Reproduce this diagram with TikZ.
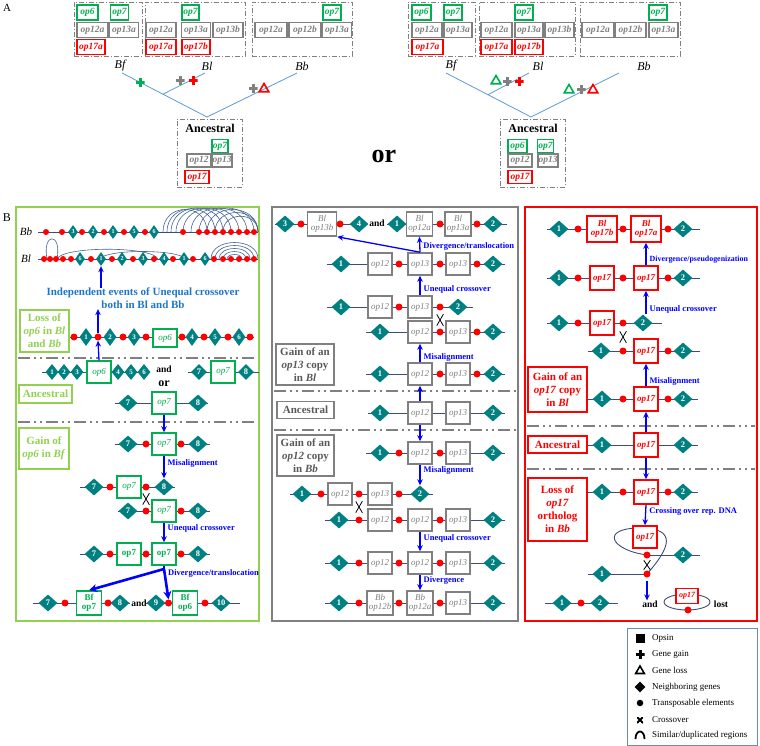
\documentclass[tikz,border=0pt]{standalone}
\usepackage{fontspec}
\setmainfont{Liberation Serif}
\setsansfont{Liberation Sans}
\usetikzlibrary{shapes.geometric, arrows.meta, positioning}
\definecolor{opgreen}{RGB}{0,176,80}
\definecolor{opgray}{RGB}{128,128,128}
\definecolor{tagtext}{RGB}{89,89,89}
\definecolor{opred}{RGB}{255,0,0}
\definecolor{nteal}{RGB}{0,128,128}
\definecolor{chromblue}{RGB}{62,76,122}
\definecolor{dupblue}{RGB}{70,100,150}
\definecolor{evblue}{RGB}{0,0,255}
\definecolor{indblue}{RGB}{30,118,200}
\definecolor{panelgreen}{RGB}{146,208,80}
\definecolor{treeblue}{RGB}{91,155,213}
\definecolor{legblue}{RGB}{100,140,190}
\tikzstyle{gene_g} = [rectangle, draw=opgreen, fill=white, line width=1.5pt, text=opgreen, font=\fontsize{9}{9.5}\selectfont\itshape, minimum width=24pt, minimum height=22pt, inner sep=0.5pt, align=center]
\tikzstyle{gene_k} = [rectangle, draw=opgray, fill=white, line width=1.6pt, text=opgray, font=\fontsize{9}{9.5}\selectfont\itshape, minimum width=24pt, minimum height=22pt, inner sep=0.5pt, align=center]
\tikzstyle{gene_r} = [rectangle, draw=opred, fill=white, line width=1.5pt, text=opred, font=\fontsize{9}{9.5}\selectfont\bfseries\itshape, minimum width=24pt, minimum height=24pt, inner sep=0.5pt, align=center]
\tikzstyle{agene_g} = [rectangle, draw=opgreen, fill=white, line width=1.3pt, text=opgreen, font=\fontsize{9.5}{9.5}\selectfont\bfseries\itshape, minimum height=15pt, inner sep=0pt]
\tikzstyle{agene_k} = [rectangle, draw=opgray, fill=white, line width=1.3pt, text=opgray, font=\fontsize{9.5}{9.5}\selectfont\bfseries\itshape, minimum height=15pt, inner sep=0pt]
\tikzstyle{agene_r} = [rectangle, draw=opred, fill=white, line width=1.3pt, text=opred, font=\fontsize{9.5}{9.5}\selectfont\bfseries\itshape, minimum height=15pt, inner sep=0pt]
\tikzstyle{neigh} = [diamond, fill=nteal, text=white, font=\fontsize{8.5}{8.5}\selectfont\bfseries, inner sep=0pt, minimum width=19pt, minimum height=17pt]
\tikzstyle{neigh_m} = [neigh, minimum width=13pt, minimum height=18pt, font=\fontsize{7}{7}\selectfont\bfseries]
\tikzstyle{neigh_s} = [neigh, minimum width=10pt, minimum height=14pt, font=\fontsize{6}{6}\selectfont\bfseries]
\tikzstyle{tedot} = [circle, fill=opred, inner sep=0pt, minimum size=7pt]
\tikzstyle{tedot_s} = [tedot, minimum size=6pt]
\tikzstyle{chrom} = [draw=chromblue, line width=0.9pt]
\tikzstyle{dup} = [draw=dupblue, line width=0.6pt]
\tikzstyle{sepline} = [draw=opgray, line width=1.6pt, dash pattern=on 12pt off 4pt on 2pt off 4pt on 2pt off 4pt]
\tikzstyle{famly} = [rectangle, draw=opgray, line width=0.8pt, dash pattern=on 5pt off 2pt on 1pt off 2pt]
\tikzstyle{tree} = [draw=treeblue, line width=0.8pt]
\tikzstyle{tag_g} = [rectangle, draw=panelgreen, line width=1.5pt, text=panelgreen, font=\fontsize{11}{13}\selectfont\bfseries, align=center, inner sep=1pt]
\tikzstyle{tag_k} = [rectangle, draw=opgray, line width=1.6pt, text=tagtext, font=\fontsize{11}{13}\selectfont\bfseries, align=center, inner sep=1pt]
\tikzstyle{tag_r} = [rectangle, draw=opred, line width=1.5pt, text=opred, font=\fontsize{11}{13}\selectfont\bfseries, align=center, inner sep=1pt]
\tikzstyle{panel_g} = [rectangle, draw=panelgreen, line width=2.3pt]
\tikzstyle{panel_k} = [rectangle, draw=opgray, line width=2.8pt]
\tikzstyle{panel_r} = [rectangle, draw=opred, line width=2pt]
\tikzstyle{evlabel} = [text=evblue, font=\fontsize{8.5}{8.5}\selectfont\bfseries, inner sep=0pt, anchor=west, xshift=3pt]
\tikzstyle{evarrow} = [draw=evblue, line width=1.3pt, -{Stealth[length=6pt,width=5.5pt]}]
\tikzstyle{evarrow_thick} = [draw=evblue, line width=2.6pt, -{Stealth[length=8pt,width=8pt]}]
\tikzstyle{sp_lab} = [font=\fontsize{12}{12}\selectfont\itshape, inner sep=0pt]
\tikzstyle{andtxt} = [font=\fontsize{9.5}{9.5}\selectfont\bfseries, inner sep=0pt]
\tikzstyle{legtxt} = [font=\fontsize{9}{9}\selectfont, anchor=west, inner sep=0pt]
\tikzstyle{xover} = [minimum width=7pt, minimum height=12pt, inner sep=0pt, path picture={\draw[line width=0.8pt] (path picture bounding box.north west) -- (path picture bounding box.south east) (path picture bounding box.north east) -- (path picture bounding box.south west);}]
\tikzset{gain/.style={rectangle, minimum size=9pt, inner sep=0pt, path picture={\draw[#1, line width=3pt] (path picture bounding box.north) -- (path picture bounding box.south) (path picture bounding box.west) -- (path picture bounding box.east);}}}
\tikzset{loss/.style={regular polygon, regular polygon sides=3, draw=#1, line width=1.6pt, inner sep=0pt, minimum size=11pt}}

\begin{document}
\begin{tikzpicture}[x=1pt, y=-1pt]
\useasboundingbox (0,0) rectangle (760,746);

% ===== Panel A : left tree
\node[font=\fontsize{11}{11}\selectfont] (lab_A) at (7,8) {A};
\node[famly, minimum width=68pt, minimum height=54pt] (aL_fam_f) at (108,29) {};
\node[famly, minimum width=100pt, minimum height=54pt] (aL_fam_l) at (195,29) {};
\node[famly, minimum width=100pt, minimum height=54pt] (aL_fam_b) at (302,29) {};
\node[agene_g, minimum width=21pt] (aL_f_op6) at (87.5,12.5) {op6};
\node[agene_g, minimum width=18pt] (aL_f_op7) at (119.5,12.5) {op7};
\node[agene_k, minimum width=31pt] (aL_f_op12a) at (92.5,30) {op12a};
\node[agene_k, minimum width=29pt] (aL_f_op13a) at (124,30) {op13a};
\node[agene_r, minimum width=28pt] (aL_f_op17a) at (91,47) {op17a};
\node[agene_g, minimum width=17pt] (aL_l_op7) at (190.5,12.5) {op7};
\node[agene_k, minimum width=30pt] (aL_l_op12a) at (161,30) {op12a};
\node[agene_k, minimum width=29pt] (aL_l_op13a) at (196,30) {op13a};
\node[agene_k, minimum width=30pt] (aL_l_op13b) at (228,30) {op13b};
\node[agene_r, minimum width=30pt] (aL_l_op17a) at (161,47) {op17a};
\node[agene_r, minimum width=28pt] (aL_l_op17b) at (196,47) {op17b};
\node[agene_g, minimum width=18pt] (aL_b_op7) at (332,12.5) {op7};
\node[agene_k, minimum width=32pt] (aL_b_op12a) at (271,30) {op12a};
\node[agene_k, minimum width=32pt] (aL_b_op12b) at (305,30) {op12b};
\node[agene_k, minimum width=29pt] (aL_b_op13a) at (337,30) {op13a};
\coordinate (tL_root) at (207,117);
\coordinate (tL_f) at (122,73);
\coordinate (tL_fork) at (163,94.2);
\coordinate (tL_l) at (205,73);
\coordinate (tL_b) at (297,73);
\draw[tree] (tL_f) -- (tL_root) -- (tL_b);
\draw[tree] (tL_fork) -- (tL_l);
\node[sp_lab] (aL_Bf) at (120,66) {Bf};
\node[sp_lab] (aL_Bl) at (207,66) {Bl};
\node[sp_lab] (aL_Bb) at (302,66) {Bb};
\node[gain=opgreen] (aL_gain_f) at (140,83) {};
\node[gain=opgray] (aL_gain_l12) at (180,81) {};
\node[gain=opred] (aL_gain_l17) at (193,81) {};
\node[gain=opgray] (aL_gain_b12) at (253,89) {};
\node[loss=opred] (aL_loss_b17) at (264,89) {};
\node[famly, minimum width=65pt, minimum height=68pt] (aL_anc) at (209.5,153) {};
\node[font=\fontsize{12}{12}\selectfont\bfseries] (aL_anc_lab) at (210,128) {Ancestral};
\node[agene_g, minimum width=16pt, minimum height=13pt] (aL_a_op7) at (220,146) {op7};
\node[agene_k, minimum width=24pt, minimum height=13pt] (aL_a_op12) at (199,160.5) {op12};
\node[agene_k, minimum width=20pt, minimum height=13pt] (aL_a_op13) at (222,160.5) {op13};
\node[agene_r, minimum width=24pt, minimum height=13pt] (aL_a_op17) at (197,177) {op17};

\node[font=\fontsize{26}{26}\selectfont\bfseries] (aOr) at (384,156) {or};

% ===== Panel A : right tree
\node[famly, minimum width=67pt, minimum height=54pt] (aR_fam_f) at (441.5,29) {};
\node[famly, minimum width=96pt, minimum height=54pt] (aR_fam_l) at (527,29) {};
\node[famly, minimum width=100pt, minimum height=54pt] (aR_fam_b) at (630,29) {};
\node[agene_g, minimum width=19pt] (aR_f_op6) at (421.5,12.5) {op6};
\node[agene_g, minimum width=18pt] (aR_f_op7) at (453,12.5) {op7};
\node[agene_k, minimum width=30pt] (aR_f_op12a) at (427,30) {op12a};
\node[agene_k, minimum width=28pt] (aR_f_op13a) at (458,30) {op13a};
\node[agene_r, minimum width=31pt] (aR_f_op17a) at (427.5,47) {op17a};
\node[agene_g, minimum width=18pt] (aR_l_op7) at (524,12.5) {op7};
\node[agene_k, minimum width=31pt] (aR_l_op12a) at (496.5,30) {op12a};
\node[agene_k, minimum width=28pt] (aR_l_op13a) at (529,30) {op13a};
\node[agene_k, minimum width=29pt] (aR_l_op13b) at (559.5,30) {op13b};
\node[agene_r, minimum width=31pt] (aR_l_op17a) at (496.5,47) {op17a};
\node[agene_r, minimum width=28pt] (aR_l_op17b) at (529,47) {op17b};
\node[agene_g, minimum width=18pt] (aR_b_op7) at (658,12.5) {op7};
\node[agene_k, minimum width=32pt] (aR_b_op12a) at (598,30) {op12a};
\node[agene_k, minimum width=31pt] (aR_b_op12b) at (630.5,30) {op12b};
\node[agene_k, minimum width=29pt] (aR_b_op13a) at (663.5,30) {op13a};
\coordinate (tR_root) at (531,117);
\coordinate (tR_f) at (446,73);
\coordinate (tR_fork) at (488,94.7);
\coordinate (tR_l) at (529,73);
\coordinate (tR_b) at (619,73);
\draw[tree] (tR_f) -- (tR_root) -- (tR_b);
\draw[tree] (tR_fork) -- (tR_l);
\node[sp_lab] (aR_Bf) at (451,66) {Bf};
\node[sp_lab] (aR_Bl) at (538,66) {Bl};
\node[sp_lab] (aR_Bb) at (644,66) {Bb};
\node[loss=opgreen] (aR_loss_l6) at (496,81) {};
\node[gain=opgray] (aR_gain_l12) at (507,82) {};
\node[gain=opred] (aR_gain_l17) at (519,82) {};
\node[loss=opgreen] (aR_loss_b6) at (569,90) {};
\node[gain=opgray] (aR_gain_b12) at (581,90) {};
\node[loss=opred] (aR_loss_b17) at (593,90) {};
\node[famly, minimum width=65pt, minimum height=68pt] (aR_anc) at (532.5,153) {};
\node[font=\fontsize{12}{12}\selectfont\bfseries] (aR_anc_lab) at (533,128) {Ancestral};
\node[agene_g, minimum width=19pt, minimum height=13pt] (aR_a_op6) at (517.5,146) {op6};
\node[agene_g, minimum width=16pt, minimum height=13pt] (aR_a_op7) at (545.5,146) {op7};
\node[agene_k, minimum width=24pt, minimum height=13pt] (aR_a_op12) at (520,160.5) {op12};
\node[agene_k, minimum width=20pt, minimum height=13pt] (aR_a_op13) at (548,160.5) {op13};
\node[agene_r, minimum width=24pt, minimum height=13pt] (aR_a_op17) at (520,177) {op17};

% ===== Panel B : frames
\node[font=\fontsize{12}{12}\selectfont] (lab_B) at (7,218) {B};
\node[panel_g, minimum width=243pt, minimum height=414pt] (L_panel) at (137.5,414) {};
\node[panel_k, minimum width=246pt, minimum height=414pt] (M_panel) at (395,414) {};
\node[panel_r, minimum width=232pt, minimum height=414pt] (R_panel) at (641,414) {};

% ----- left panel (op6 / op7)
\foreach \a/\b/\h in {163/207/30, 167/215/31, 171/223/32, 176/231/32, 183/239/32, 191/247/32, 199/254/32, 207/258/30, 215/258/26, 223/258/21}
  \draw[dup] (\a,232) .. controls (\a,232-\h) and (\b,232-\h) .. (\b,232);
\coordinate (Bb_l) at (38,232);
\coordinate (Bb_r) at (258,232);
\draw[chrom] (Bb_l) -- (Bb_r);
\foreach \x [count=\i] in {46,62,82,104,124,145,183,199,207,215,223,231,239,247,254}
  \node[tedot_s] (Bb_t\i) at (\x,232) {};
\foreach \x/\lbl [count=\i] in {73/3,93/2,113/1,134/5,154/6}
  \node[neigh_s] (Bb_d\i) at (\x,232) {\lbl};
\node[sp_lab, font=\fontsize{11}{11}\selectfont\itshape] (Bb_lab) at (26,232) {Bb};

\draw[dup] (47,259) .. controls (42,232) and (62,232) .. (57,259);
\draw[dup] (57,259) .. controls (62,246) and (153,246) .. (158,259);
\draw[dup] (100,259) .. controls (105,249) and (180,249) .. (185,259);
\foreach \a/\b/\h in {211/258/22, 215/254/18, 219/250/14, 223/246/10, 227/242/6}
  \draw[dup] (\a,259) .. controls (\a,259-\h) and (\b,259-\h) .. (\b,259);
\coordinate (Bl_l) at (38,259);
\coordinate (Bl_r) at (258,259);
\draw[chrom] (Bl_l) -- (Bl_r);
\foreach \x [count=\i] in {44,50,56,63,71,91,112,133,154,173,193,214,223,231,239,247,254}
  \node[tedot_s] (Bl_t\i) at (\x,259) {};
\foreach \x/\lbl [count=\i] in {80/6,101/1,122/2,143/3,164/4,184/1,205/6}
  \node[neigh_s] (Bl_d\i) at (\x,259) {\lbl};
\node[sp_lab, font=\fontsize{11}{11}\selectfont\itshape] (Bl_lab) at (26,259) {Bl};

\node[text=indblue, font=\fontsize{11}{13}\selectfont\bfseries, align=center, inner sep=0pt] (L_indep) at (143,298.5) {Independent events of Unequal crossover\\both in Bl and Bb};

% loss of op6
\node[tag_g, minimum width=49pt, minimum height=42pt] (L_tag_loss) at (44.5,331) {Loss of\\\textit{op6} in \textit{Bl}\\and \textit{Bb}};
\coordinate (L_l) at (70,337);
\coordinate (L_r) at (254,337);
\draw[chrom] (L_l) -- (L_r);
\node[tedot] (L_t1) at (74,337) {};
\node[neigh_m] (L_d1) at (86,337) {1};
\node[tedot] (L_t2) at (98,337) {};
\node[neigh_m] (L_d2) at (110,337) {2};
\node[tedot] (L_t3) at (123,337) {};
\node[neigh_m] (L_d3) at (134,337) {3};
\node[tedot] (L_t4) at (146,337) {};
\node[gene_g, minimum height=18pt] (L_op6) at (165,338) {op6};
\node[tedot] (L_t5) at (182,337) {};
\node[neigh_m] (L_d4) at (192,337) {4};
\node[tedot] (L_t6) at (204,337) {};
\node[neigh_m] (L_d5) at (215,337) {5};
\node[tedot] (L_t7) at (228,337) {};
\node[neigh_m] (L_d6) at (239,337) {6};
\node[tedot] (L_t8) at (250,337) {};

\coordinate (L_sep1a) at (18,358);
\coordinate (L_sep1b) at (257,358);
\draw[sepline] (L_sep1a) -- (L_sep1b);

% ancestral op6 and op7
\coordinate (A0_l1) at (42,372);
\coordinate (A0_r1) at (150,372);
\draw[chrom] (A0_l1) -- (A0_r1);
\node[neigh_m, minimum height=16pt] (A0_d1) at (52,372) {1};
\node[neigh_m, minimum height=16pt] (A0_d2) at (64,372) {2};
\node[neigh_m, minimum height=16pt] (A0_d3) at (77,372) {3};
\node[gene_g] (A0_op6) at (99,372) {op6};
\node[neigh_m, minimum height=16pt] (A0_d4) at (118,372) {4};
\node[neigh_m, minimum height=16pt] (A0_d5) at (131,372) {5};
\node[neigh_m, minimum height=16pt] (A0_d6) at (144,372) {6};
\node[andtxt] (A0_and) at (164,369) {and};
\node[font=\fontsize{12}{12}\selectfont\bfseries, inner sep=0pt] (A0_or) at (164,384) {or};
\coordinate (A0_l2) at (188,372);
\coordinate (A0_r2) at (259,372);
\draw[chrom] (A0_l2) -- (A0_r2);
\node[neigh, minimum width=16pt, minimum height=16pt] (A0_d7) at (199,372) {7};
\node[gene_g] (A0_op7) at (223,372) {op7};
\node[neigh, minimum width=16pt, minimum height=16pt] (A0_d8) at (246,372) {8};

\node[tag_g, minimum width=53pt, minimum height=18pt] (L_tag_anc) at (45.5,394) {Ancestral};
\coordinate (LA_l) at (115,403);
\coordinate (LA_r) at (208,403);
\draw[chrom] (LA_l) -- (LA_r);
\node[neigh] (LA_d7) at (128,403) {7};
\node[gene_g] (LA_op7) at (164,403) {op7};
\node[neigh] (LA_d8) at (198,403) {8};

\coordinate (L_sep2a) at (18,422);
\coordinate (L_sep2b) at (257,422);
\draw[sepline] (L_sep2a) -- (L_sep2b);

% gain of op6
\node[tag_g, minimum width=50pt, minimum height=41pt] (L_tag_gain) at (44,448.5) {Gain of\\\textit{op6} in \textit{Bf}};
\coordinate (G1_l) at (115,444);
\coordinate (G1_r) at (210,444);
\draw[chrom] (G1_l) -- (G1_r);
\node[neigh] (G1_d7) at (128,444) {7};
\node[tedot] (G1_t1) at (146,444) {};
\node[gene_g] (G1_op7) at (164,444) {op7};
\node[tedot] (G1_t2) at (181,444) {};
\node[neigh] (G1_d8) at (198,444) {8};

\coordinate (G2a_l) at (80,487);
\coordinate (G2a_r) at (175,487);
\draw[chrom] (G2a_l) -- (G2a_r);
\node[neigh] (G2a_d7) at (94,487) {7};
\node[tedot] (G2a_t1) at (110,487) {};
\node[gene_g] (G2a_op7) at (129,487) {op7};
\node[tedot] (G2a_t2) at (146,487) {};
\node[neigh] (G2a_d8) at (164,487) {8};

\coordinate (G2b_l) at (118,511);
\coordinate (G2b_r) at (210,511);
\draw[chrom] (G2b_l) -- (G2b_r);
\node[neigh] (G2b_d7) at (128,511) {7};
\node[tedot] (G2b_t1) at (146,511) {};
\node[gene_g] (G2b_op7) at (164,511) {op7};
\node[tedot] (G2b_t2) at (181,511) {};
\node[neigh] (G2b_d8) at (198,511) {8};
\node[xover] (G2_x) at (146,499) {};

\coordinate (G3_l) at (80,554);
\coordinate (G3_r) at (210,554);
\draw[chrom] (G3_l) -- (G3_r);
\node[neigh] (G3_d7) at (94,554) {7};
\node[tedot] (G3_t1) at (110,554) {};
\node[gene_g, font=\fontsize{9}{9.5}\selectfont\bfseries] (G3_b1) at (129,554) {op7};
\node[tedot] (G3_t2) at (146,554) {};
\node[gene_g, font=\fontsize{9}{9.5}\selectfont\bfseries] (G3_b2) at (164,554) {op7};
\node[tedot] (G3_t3) at (181,554) {};
\node[neigh] (G3_d8) at (198,554) {8};

\coordinate (F_l1) at (33,603);
\coordinate (F_r1) at (130,603);
\draw[chrom] (F_l1) -- (F_r1);
\node[neigh] (F_d7) at (48,603) {7};
\node[tedot] (F_t1) at (65,603) {};
\node[gene_g, font=\fontsize{9}{9.5}\selectfont\bfseries, minimum width=25pt, minimum height=24pt] (F_b1) at (89,603) {Bf\\op7};
\node[tedot] (F_t2) at (108,603) {};
\node[neigh] (F_d8) at (120,603) {8};
\node[andtxt] (F_and) at (139,603) {and};
\coordinate (F_l2) at (146,603);
\coordinate (F_r2) at (240,603);
\draw[chrom] (F_l2) -- (F_r2);
\node[neigh] (F_d9) at (156,603) {9};
\node[tedot] (F_t3) at (168.5,603) {};
\node[gene_g, font=\fontsize{9}{9.5}\selectfont\bfseries, minimum width=25pt, minimum height=24pt] (F_b2) at (185,603) {Bf\\op6};
\node[tedot] (F_t4) at (205,603) {};
\node[neigh] (F_d10) at (221,603) {10};

% left arrows
\draw[evarrow] (L_indep.north -| Bl_d2) -- (Bl_d2.south);
\draw[evarrow] (L_t2.north) -- (L_indep.south -| L_t2);
\draw[evarrow] (A0_op6.north) -- (L_t2.south);
\draw[evarrow] (LA_op7.south) -- (G1_op7.north);
\draw[evarrow] (G1_op7.south) -- (G2a_d8.north) node[evlabel, pos=0.35] {Misalignment};
\draw[evarrow] (G2b_op7.south) -- (G3_b2.north) node[evlabel, pos=0.3] {Unequal crossover};
\coordinate (G3_div) at (164,569);
\draw[evblue, line width=2.6pt] (G3_b2.south) -- (G3_div);
\draw[evarrow_thick] (G3_div) -- (F_b1.north);
\draw[evarrow_thick] (G3_div) -- (F_t3.north);
\node[evlabel] (G3_divlab) at (165,573) {Divergence/translocation};

% ----- middle panel (op12 / op13)
\coordinate (M1_l1) at (275,224);
\coordinate (M1_r1) at (367,224);
\draw[chrom] (M1_l1) -- (M1_r1);
\node[neigh] (M1_d3) at (285,224) {3};
\node[tedot] (M1_t1) at (301,224) {};
\node[gene_k, minimum width=29pt, minimum height=24pt] (M1_b1) at (322,224) {Bl\\op13b};
\node[tedot] (M1_t2) at (340,224) {};
\node[neigh] (M1_d4) at (359,224) {4};
\node[andtxt] (M1_and) at (377,223) {and};
\coordinate (M1_l2) at (387,224);
\coordinate (M1_r2) at (507,224);
\draw[chrom] (M1_l2) -- (M1_r2);
\node[neigh] (M1_d1) at (397,224) {1};
\node[gene_k, minimum width=26pt, minimum height=24pt] (M1_b2) at (419.5,224) {Bl\\op12a};
\node[tedot] (M1_t3) at (440,224) {};
\node[gene_k, minimum width=26pt, minimum height=24pt] (M1_b3) at (458,224) {Bl\\op13a};
\node[tedot] (M1_t4) at (477,224) {};
\node[neigh] (M1_d2) at (493,224) {2};

\coordinate (M2_l) at (327,264);
\coordinate (M2_r) at (505,264);
\draw[chrom] (M2_l) -- (M2_r);
\node[neigh] (M2_d1) at (341,264) {1};
\node[gene_k] (M2_b1) at (380,264) {op12};
\node[tedot] (M2_t1) at (399,264) {};
\node[gene_k] (M2_b2) at (420,264) {op13};
\node[tedot] (M2_t2) at (440,264) {};
\node[gene_k] (M2_b3) at (458,264) {op13};
\node[tedot] (M2_t3) at (477,264) {};
\node[neigh] (M2_d2) at (493,264) {2};

\coordinate (M3a_l) at (327,307);
\coordinate (M3a_r) at (473,307);
\draw[chrom] (M3a_l) -- (M3a_r);
\node[neigh] (M3a_d1) at (341,307) {1};
\node[gene_k] (M3a_b1) at (380,307) {op12};
\node[tedot] (M3a_t1) at (399,307) {};
\node[gene_k] (M3a_b2) at (420,307) {op13};
\node[tedot] (M3a_t2) at (440,307) {};
\node[neigh] (M3a_d2) at (458,307) {2};

\coordinate (M3b_l) at (366,332);
\coordinate (M3b_r) at (505,332);
\draw[chrom] (M3b_l) -- (M3b_r);
\node[neigh] (M3b_d1) at (380,332) {1};
\node[gene_k] (M3b_b1) at (420,332) {op12};
\node[tedot] (M3b_t1) at (440,332) {};
\node[gene_k] (M3b_b2) at (458,332) {op13};
\node[tedot] (M3b_t2) at (477,332) {};
\node[neigh] (M3b_d2) at (493,332) {2};
\node[xover] (M3_x) at (440,320) {};

\node[tag_k, minimum width=58pt, minimum height=41pt] (M_tag_gain13) at (305,364.5) {Gain of an\\\textit{op13} copy\\in \textit{Bl}};
\coordinate (M4_l) at (366,374);
\coordinate (M4_r) at (505,374);
\draw[chrom] (M4_l) -- (M4_r);
\node[neigh] (M4_d1) at (380,374) {1};
\node[gene_k] (M4_b1) at (420,374) {op12};
\node[tedot] (M4_t1) at (440,374) {};
\node[gene_k] (M4_b2) at (458,374) {op13};
\node[tedot] (M4_t2) at (477,374) {};
\node[neigh] (M4_d2) at (493,374) {2};

\coordinate (M_sep1a) at (274,391);
\coordinate (M_sep1b) at (516,391);
\draw[sepline] (M_sep1a) -- (M_sep1b);

\node[tag_k, minimum width=57pt, minimum height=17pt] (M_tag_anc) at (305.5,410) {Ancestral};
\coordinate (MA_l) at (368,413);
\coordinate (MA_r) at (505,413);
\draw[chrom] (MA_l) -- (MA_r);
\node[neigh] (MA_d1) at (380,413) {1};
\node[gene_k] (MA_b1) at (420,413) {op12};
\node[gene_k] (MA_b2) at (458,413) {op13};
\node[neigh] (MA_d2) at (493,413) {2};

\coordinate (M_sep2a) at (274,430);
\coordinate (M_sep2b) at (516,430);
\draw[sepline] (M_sep2a) -- (M_sep2b);

\node[tag_k, minimum width=57pt, minimum height=41pt] (M_tag_gain12) at (305.5,455.5) {Gain of an\\\textit{op12} copy\\in \textit{Bb}};
\coordinate (MB1_l) at (366,453);
\coordinate (MB1_r) at (505,453);
\draw[chrom] (MB1_l) -- (MB1_r);
\node[neigh] (MB1_d1) at (380,453) {1};
\node[tedot] (MB1_t1) at (399,453) {};
\node[gene_k] (MB1_b1) at (420,453) {op12};
\node[tedot] (MB1_t2) at (440,453) {};
\node[gene_k] (MB1_b2) at (458,453) {op13};
\node[neigh] (MB1_d2) at (493,453) {2};

\coordinate (MB2a_l) at (290,494);
\coordinate (MB2a_r) at (433,494);
\draw[chrom] (MB2a_l) -- (MB2a_r);
\node[neigh] (MB2a_d1) at (302,494) {1};
\node[tedot] (MB2a_t1) at (321,494) {};
\node[gene_k] (MB2a_b1) at (340,494) {op12};
\node[tedot] (MB2a_t2) at (359,494) {};
\node[gene_k] (MB2a_b2) at (380,494) {op13};
\node[tedot] (MB2a_t3) at (399,494) {};
\node[neigh] (MB2a_d2) at (420,494) {2};

\coordinate (MB2b_l) at (325,520);
\coordinate (MB2b_r) at (505,520);
\draw[chrom] (MB2b_l) -- (MB2b_r);
\node[neigh] (MB2b_d1) at (339,520) {1};
\node[tedot] (MB2b_t1) at (359,520) {};
\node[gene_k] (MB2b_b1) at (380,520) {op12};
\node[tedot] (MB2b_t2) at (399,520) {};
\node[gene_k] (MB2b_b2) at (420,520) {op12};
\node[tedot] (MB2b_t3) at (440,520) {};
\node[gene_k] (MB2b_b3) at (458,520) {op13};
\node[neigh] (MB2b_d2) at (493,520) {2};
\node[xover] (MB2_x) at (359,507) {};

\coordinate (MB3_l) at (325,563);
\coordinate (MB3_r) at (505,563);
\draw[chrom] (MB3_l) -- (MB3_r);
\node[neigh] (MB3_d1) at (339,563) {1};
\node[tedot] (MB3_t1) at (359,563) {};
\node[gene_k] (MB3_b1) at (380,563) {op12};
\node[tedot] (MB3_t2) at (399,563) {};
\node[gene_k] (MB3_b2) at (420,563) {op12};
\node[tedot] (MB3_t3) at (440,563) {};
\node[gene_k] (MB3_b3) at (458,563) {op13};
\node[neigh] (MB3_d2) at (493,563) {2};

\coordinate (MB4_l) at (325,603);
\coordinate (MB4_r) at (505,603);
\draw[chrom] (MB4_l) -- (MB4_r);
\node[neigh] (MB4_d1) at (339,603) {1};
\node[tedot] (MB4_t1) at (359,603) {};
\node[gene_k, minimum width=26pt, minimum height=24pt] (MB4_b1) at (380,603) {Bb\\op12b};
\node[tedot] (MB4_t2) at (399,603) {};
\node[gene_k, minimum width=26pt, minimum height=24pt] (MB4_b2) at (420,603) {Bb\\op12a};
\node[tedot] (MB4_t3) at (440,603) {};
\node[gene_k] (MB4_b3) at (458,603) {op13};
\node[neigh] (MB4_d2) at (493,603) {2};

% middle arrows
\draw[evarrow] (M2_b2.north) -- (M1_b2.south) node[evlabel, pos=0.4] {Divergence/translocation};
\draw[evarrow] (M2_b2.north) -- (M1_b1.south east);
\draw[evarrow] (M3a_b2.north) -- (M2_b2.south) node[evlabel, pos=0.3] {Unequal crossover};
\draw[evarrow] (M4_b1.north) -- (M3b_b1.south) node[evlabel, pos=0.25] {Misalignment};
\draw[evarrow] (MA_b1.north) -- (M4_b1.south);
\draw[evarrow] (MA_b1.south) -- (MB1_b1.north);
\draw[evarrow] (MB1_b1.south) -- (MB2a_d2.north) node[evlabel, pos=0.3] {Misalignment};
\draw[evarrow] (MB2b_b2.south) -- (MB3_b2.north) node[evlabel, pos=0.33] {Unequal crossover};
\draw[evarrow] (MB3_b2.south) -- (MB4_b2.north) node[evlabel, pos=0.35] {Divergence};

% ----- right panel (op17)
\coordinate (R1_l) at (547,229);
\coordinate (R1_r) at (700,229);
\draw[chrom] (R1_l) -- (R1_r);
\node[neigh] (R1_d1) at (559,229) {1};
\node[tedot] (R1_t1) at (578,229) {};
\node[gene_r, minimum width=30pt, minimum height=26pt] (R1_b1) at (602,229) {Bl\\op17b};
\node[tedot] (R1_t2) at (623,229) {};
\node[gene_r, minimum width=30pt, minimum height=26pt] (R1_b2) at (646,229) {Bl\\op17a};
\node[tedot] (R1_t3) at (668,229) {};
\node[neigh] (R1_d2) at (683,229) {2};

\coordinate (R2_l) at (547,278);
\coordinate (R2_r) at (700,278);
\draw[chrom] (R2_l) -- (R2_r);
\node[neigh] (R2_d1) at (559,278) {1};
\node[tedot] (R2_t1) at (578,278) {};
\node[gene_r] (R2_b1) at (602,278) {op17};
\node[tedot] (R2_t2) at (623,278) {};
\node[gene_r] (R2_b2) at (646,278) {op17};
\node[tedot] (R2_t3) at (668,278) {};
\node[neigh] (R2_d2) at (683,278) {2};

\coordinate (R3a_l) at (547,323);
\coordinate (R3a_r) at (662,323);
\draw[chrom] (R3a_l) -- (R3a_r);
\node[neigh] (R3a_d1) at (559,323) {1};
\node[tedot] (R3a_t1) at (578,323) {};
\node[gene_r] (R3a_b1) at (602,323) {op17};
\node[tedot] (R3a_t2) at (623,323) {};
\node[neigh] (R3a_d2) at (643,323) {2};

\coordinate (R3b_l) at (588,351);
\coordinate (R3b_r) at (700,351);
\draw[chrom] (R3b_l) -- (R3b_r);
\node[neigh] (R3b_d1) at (601,351) {1};
\node[tedot] (R3b_t1) at (623,351) {};
\node[gene_r] (R3b_b1) at (646,351) {op17};
\node[tedot] (R3b_t2) at (668,351) {};
\node[neigh] (R3b_d2) at (683,351) {2};
\node[xover] (R3_x) at (623,337) {};

\node[tag_r, minimum width=59pt, minimum height=45pt] (R_tag_gain) at (557.5,389.5) {Gain of an\\\textit{op17} copy\\in \textit{Bl}};
\coordinate (R4_l) at (588,399);
\coordinate (R4_r) at (698,399);
\draw[chrom] (R4_l) -- (R4_r);
\node[neigh] (R4_d1) at (602,399) {1};
\node[tedot] (R4_t1) at (623,399) {};
\node[gene_r] (R4_b1) at (646,399) {op17};
\node[tedot] (R4_t2) at (668,399) {};
\node[neigh] (R4_d2) at (683,399) {2};

\coordinate (R_sep1a) at (527,426);
\coordinate (R_sep1b) at (755,426);
\draw[sepline] (R_sep1a) -- (R_sep1b);

\node[tag_r, minimum width=59pt, minimum height=17pt] (R_tag_anc) at (557.5,444.5) {Ancestral};
\coordinate (RA_l) at (588,445);
\coordinate (RA_r) at (698,445);
\draw[chrom] (RA_l) -- (RA_r);
\node[neigh] (RA_d1) at (602,445) {1};
\node[gene_r] (RA_b1) at (646,445) {op17};
\node[neigh] (RA_d2) at (683,445) {2};

\coordinate (R_sep2a) at (527,469);
\coordinate (R_sep2b) at (755,469);
\draw[sepline] (R_sep2a) -- (R_sep2b);

\node[tag_r, minimum width=59pt, minimum height=63pt] (R_tag_loss) at (557.5,509.5) {Loss of\\\textit{op17}\\ortholog\\in \textit{Bb}};
\coordinate (RL1_l) at (588,492);
\coordinate (RL1_r) at (698,492);
\draw[chrom] (RL1_l) -- (RL1_r);
\node[neigh] (RL1_d1) at (602,492) {1};
\node[tedot] (RL1_t1) at (623,492) {};
\node[gene_r] (RL1_b1) at (646,492) {op17};
\node[tedot] (RL1_t2) at (668,492) {};
\node[neigh] (RL1_d2) at (683,492) {2};

% loop of repeated DNA
\coordinate (RL2_c1) at (647,555);
\coordinate (RL2_c2) at (647,574);
\coordinate (RL2_r) at (700,555);
\coordinate (RL2_l) at (588,574);
\draw[chrom] (RL2_c1) .. controls (610,550) and (600,528) .. (640,528) .. controls (678,528) and (670,548) .. (RL2_c2);
\draw[chrom] (RL2_c1) -- (RL2_r);
\draw[chrom] (RL2_l) -- (RL2_c2);
\node[gene_r, minimum height=22pt] (RL2_b1) at (645,537) {op17};
\node[tedot] (RL2_t1) at (RL2_c1) {};
\node[tedot] (RL2_t2) at (RL2_c2) {};
\node[neigh] (RL2_d2) at (683,555) {2};
\node[neigh] (RL2_d1) at (602,574) {1};
\node[xover, minimum height=10pt] (RL2_x) at (647,565) {};

\coordinate (RL3_l) at (545,603);
\coordinate (RL3_r) at (618,603);
\draw[chrom] (RL3_l) -- (RL3_r);
\node[neigh] (RL3_d1) at (562,603) {1};
\node[tedot] (RL3_t1) at (581,603) {};
\node[neigh] (RL3_d2) at (600,603) {2};
\node[andtxt] (R_and) at (650,604) {and};
\node[draw=chromblue, line width=0.9pt, ellipse, minimum width=46pt, minimum height=16pt, inner sep=0pt] (R_lostloop) at (687,602) {};
\node[gene_r, minimum width=22pt, minimum height=15pt, font=\fontsize{8}{8}\selectfont\bfseries\itshape] (R_lost_b1) at (687,596) {op17};
\node[tedot] (R_lost_t1) at (688,610) {};
\node[andtxt] (R_lost) at (721,604) {lost};

% right arrows
\draw[evarrow] (R2_b2.north) -- (R1_b2.south) node[evlabel, pos=0.23, font=\fontsize{7.9}{8}\selectfont\bfseries] {Divergence/pseudogenization};
\draw[evarrow] (R3a_d2.north -| R2_b2) -- (R2_b2.south) node[evlabel, pos=0.2] {Unequal crossover};
\draw[evarrow] (R4_b1.north) -- (R3b_b1.south) node[evlabel, pos=0.2] {Misalignment};
\draw[evarrow] (RA_b1.north) -- (R4_b1.south);
\draw[evarrow] (RA_b1.south) -- (RL1_b1.north);
\draw[evarrow] (RL1_b1.south) -- (RL2_b1.north) node[evlabel, pos=0.35] {Crossing over rep. DNA};
\draw[evarrow] ([yshift=-3pt]RL2_t2.south) -- (R_and.north -| RL2_t2);

% ===== legend
\node[draw=legblue, line width=0.8pt, minimum width=130pt, minimum height=117pt] (legend) at (692,686.5) {};
\node[fill=black, minimum size=9pt, inner sep=0pt] (leg_op) at (640,638) {};
\node[gain=black] (leg_gain) at (640,654) {};
\node[loss=black, minimum size=10pt] (leg_loss) at (640,671) {};
\node[diamond, fill=black, minimum width=11pt, minimum height=11pt, inner sep=0pt] (leg_nb) at (640,687) {};
\node[circle, fill=black, minimum size=6.5pt, inner sep=0pt] (leg_te) at (640,703) {};
\node[minimum size=6pt, inner sep=0pt, path picture={\draw[line width=2pt] (path picture bounding box.north west) -- (path picture bounding box.south east) (path picture bounding box.north east) -- (path picture bounding box.south west);}] (leg_x) at (640,720) {};
\draw[line width=1.8pt] (635.5,739) .. controls (635.5,729) and (644.5,729) .. (644.5,739);
\node[legtxt] (leg_t1) at (652,638) {Opsin};
\node[legtxt] (leg_t2) at (652,654) {Gene gain};
\node[legtxt] (leg_t3) at (652,670) {Gene loss};
\node[legtxt] (leg_t4) at (652,687) {Neighboring genes};
\node[legtxt] (leg_t5) at (652,703) {Transposable elements};
\node[legtxt] (leg_t6) at (652,720) {Crossover};
\node[legtxt] (leg_t7) at (652,735) {Similar/duplicated regions};

\end{tikzpicture}
\end{document}
